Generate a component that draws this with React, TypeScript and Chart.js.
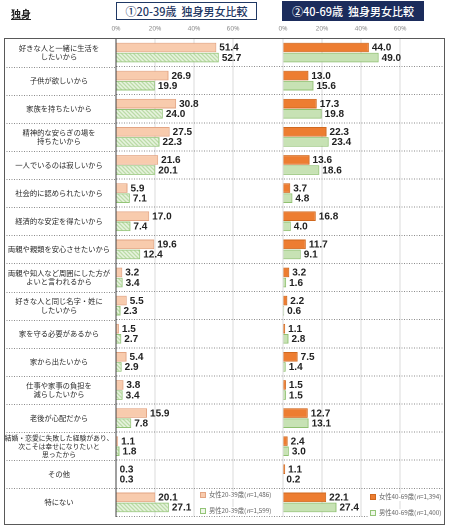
import { useEffect, useRef } from 'react';
import { Chart, registerables } from 'chart.js';

Chart.register(...registerables);

const CATEGORIES: (string | string[])[] = [
  ['好きな人と一緒に生活を', 'したいから'],
  '子供が欲しいから',
  '家族を持ちたいから',
  ['精神的な安らぎの場を', '持ちたいから'],
  '一人でいるのは寂しいから',
  '社会的に認められたいから',
  '経済的な安定を得たいから',
  '両親や親類を安心させたいから',
  ['両親や知人など周囲にした方が', 'よいと言われるから'],
  ['好きな人と同じ名字・姓に', 'したいから'],
  '家を守る必要があるから',
  '家から出たいから',
  ['仕事や家事の負担を', '減らしたいから'],
  '老後が心配だから',
  ['結婚・恋愛に失敗した経験があり、', '次こそは幸せになりたいと', '思ったから'],
  'その他',
  '特にない',
];

const FEMALE_20_39 = [51.4, 26.9, 30.8, 27.5, 21.6, 5.9, 17.0, 19.6, 3.2, 5.5, 1.5, 5.4, 3.8, 15.9, 1.1, 0.3, 20.1];
const MALE_20_39 = [52.7, 19.9, 24.0, 22.3, 20.1, 7.1, 7.4, 12.4, 3.4, 2.3, 2.7, 2.9, 3.4, 7.8, 1.8, 0.3, 27.1];
const FEMALE_40_69 = [44.0, 13.0, 17.3, 22.3, 13.6, 3.7, 16.8, 11.7, 3.2, 2.2, 1.1, 7.5, 1.5, 12.7, 2.4, 1.1, 22.1];
const MALE_40_69 = [49.0, 15.6, 19.8, 23.4, 18.6, 4.8, 4.0, 9.1, 1.6, 0.6, 2.8, 1.4, 1.5, 13.1, 3.0, 0.2, 27.4];

const X_TICKS = [0, 20, 40, 60];

const SERIES_NAMES = ['女性20-39歳', '男性20-39歳', '女性40-69歳', '男性40-69歳'];
const SERIES_N = ['1,486', '1,599', '1,394', '1,400'];

const JP = '"Noto Sans CJK JP", "Noto Sans", sans-serif';
const LABEL_SIZE = 7.3;
const LONG_LABEL_SIZE = 6.8; // the three-line label is squeezed to fit the column

const labelSize = (i: number) => (i === 14 ? LONG_LABEL_SIZE : LABEL_SIZE);

function makeHatch() {
  const c = document.createElement('canvas');
  c.width = 4;
  c.height = 4;
  const g = c.getContext('2d')!;
  g.fillStyle = '#f4faef';
  g.fillRect(0, 0, 4, 4);
  g.strokeStyle = '#a4cf88';
  g.lineWidth = 1.2;
  g.beginPath();
  g.moveTo(-1, -1);
  g.lineTo(5, 5);
  g.moveTo(-1, 3);
  g.lineTo(1, 5);
  g.moveTo(3, -1);
  g.lineTo(5, 1);
  g.stroke();
  return g.createPattern(c, 'repeat')!;
}

// dashed row separators carried into the label column
const rowLines = {
  id: 'rowLines',
  afterDraw(chart: any) {
    const { ctx, chartArea } = chart;
    const y = chart.scales.y;
    ctx.save();
    ctx.strokeStyle = '#8c8c8c';
    ctx.lineWidth = 1;
    ctx.setLineDash([1, 1.5]);
    for (let i = 1; i < CATEGORIES.length; i++) {
      const py = Math.round(y.getPixelForValue(i - 0.5)) + 0.5;
      ctx.beginPath();
      ctx.moveTo(4, py);
      ctx.lineTo(chartArea.left, py);
      ctx.stroke();
    }
    ctx.restore();
  },
};

const valueLabels = {
  id: 'valueLabels',
  afterDatasetsDraw(chart: any) {
    const { ctx } = chart;
    ctx.save();
    ctx.font = 'bold 10px "Liberation Sans", Arial, sans-serif';
    ctx.fillStyle = '#222';
    ctx.textBaseline = 'middle';
    ctx.textAlign = 'left';
    chart.data.datasets.forEach((ds: any, di: number) => {
      const meta = chart.getDatasetMeta(di);
      meta.data.forEach((bar: any, i: number) => {
        ctx.fillText(Number(ds.data[i]).toFixed(1), bar.x + 3, bar.y + 0.5);
      });
    });
    ctx.restore();
  },
};

function xAxis(weight: number, max: number) {
  return {
    type: 'linear' as const,
    position: 'top' as const,
    stack: 'top',
    stackWeight: weight,
    stacked: false,
    min: 0,
    max,
    afterBuildTicks: (s: any) => {
      s.ticks = X_TICKS.map((v) => ({ value: v }));
    },
    afterFit: (s: any) => {
      s.height = 18.5;
    },
    ticks: {
      callback: (v: any) => v + '%',
      font: { family: '"Noto Sans", sans-serif', size: 6.5 },
      color: '#8a8a8a',
      padding: 6,
      maxRotation: 0,
    },
    grid: { color: '#dadada', drawTicks: false },
    border: { display: false },
  };
}

function LegendItem({ fill, stroke, text, n }: { fill: string; stroke: string; text: string; n: string }) {
  return (
    <div style={{ display: 'flex', alignItems: 'center', background: '#fff', padding: '0 2px', whiteSpace: 'nowrap' }}>
      <span
        style={{
          display: 'inline-block',
          width: 4,
          height: 4,
          background: fill,
          border: `1px solid ${stroke}`,
          marginRight: 3,
        }}
      />
      {text}(<i>n</i>={n})
    </div>
  );
}

export default function App() {
  const canvasRef = useRef<HTMLCanvasElement | null>(null);

  useEffect(() => {
    if (!canvasRef.current) return;

    // centre the category labels inside the label column
    const m = document.createElement('canvas').getContext('2d')!;
    let widest = 0;
    CATEGORIES.forEach((c, i) => {
      m.font = `${labelSize(i)}px ${JP}`;
      (Array.isArray(c) ? c : [c]).forEach((line) => {
        widest = Math.max(widest, m.measureText(line).width);
      });
    });
    const labelPad = 116 - 59 - widest / 2;

    const hatch = makeHatch();

    const chart = new Chart(canvasRef.current, {
      type: 'bar',
      data: {
        datasets: [
          {
            label: SERIES_NAMES[0],
            data: FEMALE_20_39,
            xAxisID: 'xl',
            stack: 'female',
            backgroundColor: '#f8cbad',
            borderColor: '#e3a583',
            borderWidth: 1,
          },
          {
            label: SERIES_NAMES[1],
            data: MALE_20_39,
            xAxisID: 'xl',
            stack: 'male',
            backgroundColor: hatch,
            borderColor: '#93c477',
            borderWidth: 1,
          },
          {
            label: SERIES_NAMES[2],
            data: FEMALE_40_69,
            xAxisID: 'xr',
            stack: 'female',
            backgroundColor: '#ed7d31',
            borderColor: '#d0691f',
            borderWidth: 1,
          },
          {
            label: SERIES_NAMES[3],
            data: MALE_40_69,
            xAxisID: 'xr',
            stack: 'male',
            backgroundColor: '#c7e2b4',
            borderColor: '#8fc070',
            borderWidth: 1,
          },
        ],
      },
      options: {
        indexAxis: 'y',
        animation: false,
        responsive: true,
        maintainAspectRatio: false,
        devicePixelRatio: 2,
        categoryPercentage: 0.72,
        barPercentage: 0.95,
        layout: { padding: { left: 4, right: 5, top: 20, bottom: 3 } },
        plugins: { legend: { display: false }, tooltip: { enabled: false } },
        scales: {
          // top boxes are laid out in reverse order, so the right panel comes first
          xr: xAxis(162, 83),
          xl: xAxis(167, 85.6),
          y: {
            type: 'category',
            labels: CATEGORIES as any,
            position: 'left',
            offset: true,
            // stacked index scale: one slot per "stack" (female / male) shared by both panels
            stacked: true,
            afterFit: (s: any) => {
              s.width = 112;
            },
            ticks: {
              crossAlign: 'center',
              padding: labelPad,
              autoSkip: false,
              font: (ctx: any) => ({ family: JP, size: labelSize(ctx.index), lineHeight: 1.2 }),
              color: '#262626',
            },
            grid: { offset: true, color: '#8c8c8c', drawTicks: false, lineWidth: 1 },
            border: { display: true, color: '#404040', width: 1, dash: [1, 1.5] },
          },
        },
      },
      plugins: [rowLines, valueLabels],
    });

    return () => {
      chart.destroy();
    };
  }, []);

  const box = {
    position: 'absolute' as const,
    height: 18,
    display: 'flex',
    alignItems: 'center',
    justifyContent: 'center',
    fontFamily: JP,
    fontSize: 11,
    fontWeight: 500,
    boxSizing: 'border-box' as const,
  };

  const legendText = {
    position: 'absolute' as const,
    fontFamily: JP,
    fontSize: 6.3,
    color: '#666',
    lineHeight: '8px',
  };

  return (
    <div style={{ position: 'absolute', left: 0, top: 0, width: 450, height: 528, background: '#fff' }}>
      <div style={{ position: 'relative', width: 450, height: 528 }}>
        <canvas ref={canvasRef}></canvas>
      </div>
      <div
        style={{
          position: 'absolute',
          left: 11,
          top: 6,
          fontFamily: JP,
          fontSize: 10,
          fontWeight: 700,
          color: '#222',
          textDecoration: 'underline',
        }}
      >
        独身
      </div>
      <div style={{ ...box, left: 116, top: 2, width: 141, border: '1px solid #1f3864', color: '#1f3864', background: '#fff' }}>
        ①20-39歳&nbsp;&nbsp;独身男女比較
      </div>
      <div style={{ ...box, left: 282, top: 1, width: 142, height: 20, background: '#1b2c5c', color: '#fff' }}>
        ②40-69歳&nbsp;&nbsp;独身男女比較
      </div>
      <div
        style={{
          position: 'absolute',
          left: 4,
          top: 38,
          width: 441,
          height: 487,
          border: '1px solid #595959',
          boxSizing: 'border-box',
          pointerEvents: 'none',
        }}
      />
      <div style={{ ...legendText, left: 198, top: 491 }}>
        <LegendItem fill="#f8cbad" stroke="#e3a583" text={SERIES_NAMES[0]} n={SERIES_N[0]} />
      </div>
      <div style={{ ...legendText, left: 198, top: 507 }}>
        <LegendItem fill="#eef7e8" stroke="#93c477" text={SERIES_NAMES[1]} n={SERIES_N[1]} />
      </div>
      <div style={{ ...legendText, left: 368, top: 493 }}>
        <LegendItem fill="#ed7d31" stroke="#d0691f" text={SERIES_NAMES[2]} n={SERIES_N[2]} />
      </div>
      <div style={{ ...legendText, left: 368, top: 509 }}>
        <LegendItem fill="#eef7e8" stroke="#93c477" text={SERIES_NAMES[3]} n={SERIES_N[3]} />
      </div>
    </div>
  );
}
